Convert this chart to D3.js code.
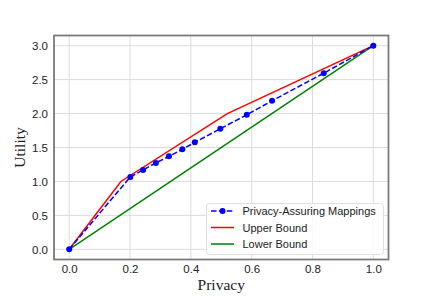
<!DOCTYPE html>
<html><head><meta charset="utf-8">
<script src="https://cdn.jsdelivr.net/npm/d3@7"></script>
<style>body{margin:0;background:#fff}svg{display:block}</style>
</head><body><svg id="c" width="432" height="297"></svg>
<script>
const privacy = [0.0, 0.201, 0.243, 0.285, 0.328, 0.372, 0.413, 0.497, 0.584, 0.667, 0.837, 1.0];
const utility = [0.0, 1.067, 1.170, 1.273, 1.370, 1.473, 1.576, 1.777, 1.982, 2.188, 2.595, 3.0];
const upperX = [0.0, 0.17, 0.52, 1.0];
const upperY = [0.0, 1.0, 2.0, 3.0];
const lowerX = [0.0, 1.0];
const lowerY = [0.0, 3.0];
const xTicks = [0.0, 0.2, 0.4, 0.6, 0.8, 1.0];
const yTicks = [0.0, 0.5, 1.0, 1.5, 2.0, 2.5, 3.0];
const legendLabels = ["Privacy-Assuring Mappings", "Upper Bound", "Lower Bound"];

const svg = d3.select("#c");
const L = 54, R = 388.5, T = 35.5, B = 259.5;
const x = d3.scaleLinear().domain([-0.05, 1.05]).range([L, R]);
const y = d3.scaleLinear().domain([-0.15, 3.15]).range([B, T]);

// grid
const g = svg.append("g");
g.selectAll(".gx").data(xTicks).enter().append("line")
  .attr("x1", d => x(d)).attr("x2", d => x(d)).attr("y1", T).attr("y2", B)
  .attr("stroke", "#dcdcdc").attr("stroke-width", 1);
g.selectAll(".gy").data(yTicks).enter().append("line")
  .attr("y1", d => y(d)).attr("y2", d => y(d)).attr("x1", L).attr("x2", R)
  .attr("stroke", "#dcdcdc").attr("stroke-width", 1);

// axes (labels only)
const xAxis = d3.axisBottom(x).tickValues(xTicks).tickFormat(d3.format(".1f")).tickSize(0).tickPadding(5);
const yAxis = d3.axisLeft(y).tickValues(yTicks).tickFormat(d3.format(".1f")).tickSize(0).tickPadding(6);
const ax = svg.append("g").attr("transform", `translate(0,${B})`).call(xAxis);
const ay = svg.append("g").attr("transform", `translate(${L},0)`).call(yAxis);
[ax, ay].forEach(a => {
  a.select(".domain").remove();
  a.selectAll("text").attr("font-family", "Liberation Sans, Arial, sans-serif").attr("font-size", 11.5).attr("fill", "#222");
});

const line = (xs, ys) => d3.line().x((d, i) => x(xs[i])).y((d, i) => y(ys[i]))(xs);

svg.append("path").attr("d", line(lowerX, lowerY)).attr("fill", "none").attr("stroke", "#008000").attr("stroke-width", 1.5);
svg.append("path").attr("d", line(upperX, upperY)).attr("fill", "none").attr("stroke", "#ff0000").attr("stroke-width", 1.5);
svg.append("path").attr("d", line(privacy, utility)).attr("fill", "none").attr("stroke", "#0000ff").attr("stroke-width", 1.5).attr("stroke-dasharray", "5.5,2.4");
svg.selectAll(".pt").data(privacy).enter().append("circle")
  .attr("cx", d => x(d)).attr("cy", (d, i) => y(utility[i])).attr("r", 3).attr("fill", "#0000ff");

// frame
svg.append("rect").attr("x", L).attr("y", T).attr("width", R - L).attr("height", B - T)
  .attr("fill", "none").attr("stroke", "#7a7a7a").attr("stroke-width", 1.8);

// axis titles
svg.append("text").attr("x", (L + R) / 2).attr("y", 290).attr("text-anchor", "middle")
  .attr("font-family", "Liberation Serif, Times New Roman, serif").attr("font-size", 15.5).attr("fill", "#222").text("Privacy");
svg.append("text").attr("transform", `translate(25,${(T + B) / 2}) rotate(-90)`).attr("text-anchor", "middle")
  .attr("font-family", "Liberation Serif, Times New Roman, serif").attr("font-size", 15.5).attr("fill", "#222").text("Utility");

// legend
const lg = svg.append("g");
lg.append("rect").attr("x", 206.5).attr("y", 203.5).attr("width", 177).attr("height", 51).attr("rx", 3)
  .attr("fill", "#fff").attr("fill-opacity", 0.85).attr("stroke", "#e0e0e0").attr("stroke-width", 1);
const colors = ["#0000ff", "#ff0000", "#008000"];
legendLabels.forEach((lab, i) => {
  const yy = 211 + i * 16.5;
  const ln = lg.append("line").attr("x1", 211).attr("x2", 234).attr("y1", yy).attr("y2", yy)
    .attr("stroke", colors[i]).attr("stroke-width", 1.5);
  if (i === 0) {
    ln.attr("stroke-dasharray", "5.5,2.4");
    lg.append("circle").attr("cx", 222.5).attr("cy", yy).attr("r", 3).attr("fill", "#0000ff");
  }
  lg.append("text").attr("x", 242.5).attr("y", yy + 4).attr("font-family", "Liberation Sans, Arial, sans-serif")
    .attr("font-size", 11).attr("fill", "#222").text(lab);
});
</script></body></html>
